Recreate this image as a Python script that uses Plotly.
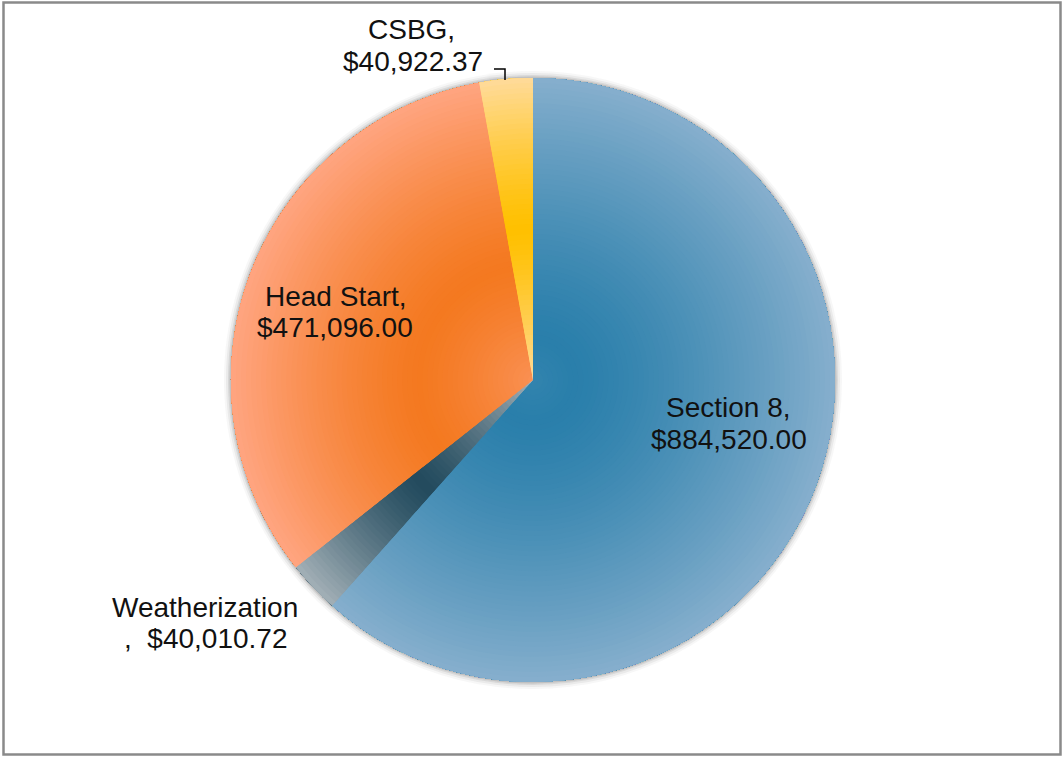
import plotly.graph_objects as go

# data
labels = ["Section 8", "Weatherization", "Head Start", "CSBG"]
values = [884520.00, 40010.72, 471096.00, 40922.37]

# styling: per-slice radial gradient (dark centre -> light rim)
dark = ["#2a7fab", "#234b5e", "#f47920", "#ffc000"]
light = ["#86afcd", "#a3b0b7", "#ffa581", "#ffdb9a"]
grad_centre = [0.14, 0.5, 0.38, 0.5]   # radius (0..1) of darkest point
grad_span = [0.86, 0.5, 0.62, 0.5]

W, H = 1062, 757
CX, CY, R = 533, 380, 302
N_RINGS = 60


def hex2rgb(h):
    h = h.lstrip("#")
    return [int(h[i:i + 2], 16) for i in (0, 2, 4)]


def mix(a, b, t):
    a, b = hex2rgb(a), hex2rgb(b)
    c = [round(a[i] + (b[i] - a[i]) * t) for i in range(3)]
    return f"rgb({c[0]},{c[1]},{c[2]})"


def domain(r):
    return dict(x=[(CX - r) / W, (CX + r) / W],
                y=[1 - (CY + r) / H, 1 - (CY - r) / H])


fig = go.Figure()

# soft shadow around the pie
for extra, alpha in [(7, 0.05), (5, 0.08), (3, 0.12), (1.5, 0.18)]:
    fig.add_trace(go.Pie(
        labels=labels, values=values, sort=False, direction="clockwise",
        domain=domain(R + extra), textinfo="none", hoverinfo="skip",
        marker=dict(colors=[f"rgba(90,90,90,{alpha})"] * len(values),
                    line=dict(width=0)),
        showlegend=False,
    ))

# gradient rings
for k in range(N_RINGS):
    r = (k + 0.5) / N_RINGS
    cols = []
    for i in range(len(values)):
        t = min(1.0, abs(r - grad_centre[i]) / grad_span[i]) ** 1.3
        cols.append(mix(dark[i], light[i], t))
    fig.add_trace(go.Pie(
        labels=labels, values=values, sort=False, direction="clockwise",
        hole=k / N_RINGS, domain=domain(R), textinfo="none",
        hoverinfo="label+value" if k == 0 else "skip",
        marker=dict(colors=cols, line=dict(width=0)),
        showlegend=False,
    ))

# data labels
label_pos = {
    "Section 8": [(728, 407), (729, 439)],
    "Weatherization": [(205, 607), (205, 638)],
    "Head Start": [(336, 296), (335, 327)],
    "CSBG": [(411, 29), (413, 61)],
}
comma_next_line = {"Weatherization"}

for lab, val in zip(labels, values):
    money = f"${val:,.2f}"
    if lab in comma_next_line:
        lines = [lab, ",  " + money]
    else:
        lines = [lab + ",", money]
    for text, (px, py) in zip(lines, label_pos[lab]):
        fig.add_annotation(
            x=px / W, y=1 - py / H, xref="paper", yref="paper",
            text=text, showarrow=False, xanchor="center", yanchor="middle",
            font=dict(family="Liberation Sans, Arial, sans-serif", size=28,
                      color="#111111"),
        )

# leader line for CSBG
fig.add_shape(
    type="path", xref="paper", yref="paper",
    path=(f"M {494 / W} {1 - 69 / H} L {505 / W} {1 - 69 / H} "
          f"L {505 / W} {1 - 80 / H}"),
    line=dict(color="#000000", width=1.5),
)

# chart frame
fig.add_shape(
    type="rect", xref="paper", yref="paper",
    x0=3.5 / W, x1=1060.5 / W, y0=1 - 754.5 / H, y1=1 - 2.5 / H,
    line=dict(color="#8a8a8a", width=2.5), layer="above",
)

fig.update_layout(
    width=W, height=H,
    margin=dict(l=0, r=0, t=0, b=0),
    paper_bgcolor="white",
    plot_bgcolor="white",
    showlegend=False,
)

fig.write_html(
    "out.html",
    config={"displayModeBar": False},
    post_script="document.body.style.margin = '0px';",
)
